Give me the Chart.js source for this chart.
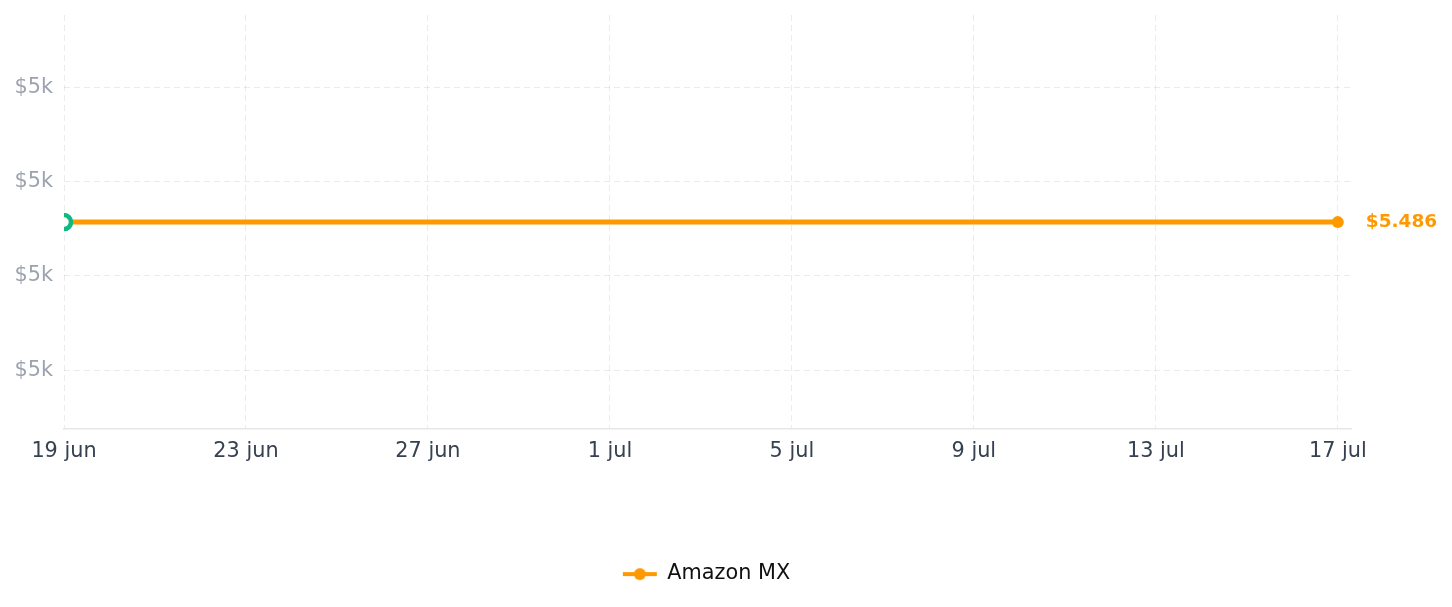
<!DOCTYPE html>
<html>
<head>
<meta charset="utf-8">
<script src="https://cdn.jsdelivr.net/npm/chart.js@4.4.1/dist/chart.umd.min.js"></script>
<style>
  html, body { margin: 0; padding: 0; background: #ffffff; }
  #wrap { width: 1452px; height: 607px; position: relative; }
</style>
</head>
<body>
<div id="wrap"><canvas id="c"></canvas></div>
<script>
// ---- data ----
const seriesName = 'Amazon MX';
const dates = ['2025-06-19', '2025-07-17'];
const prices = [5485.7, 5485.7];
const xTickLabels = ['19 jun', '23 jun', '27 jun', '1 jul', '5 jul', '9 jul', '13 jul', '17 jul'];
const xMaxDays = 28.29;

// ---- styles ----
const ORANGE = '#ff9900';
const GREEN = '#10b981';
const FONT = "'DejaVu Sans', Verdana, sans-serif";
const FS = 20.8;

const t0 = Date.parse(dates[0]);
const points = dates.map((d, i) => ({ x: (Date.parse(d) - t0) / 86400000, y: prices[i] }));
const last = prices.length - 1;

// legend icon: line with a dot
const icon = document.createElement('canvas');
icon.width = 36; icon.height = 14;
(function () {
  const g = icon.getContext('2d');
  g.strokeStyle = ORANGE; g.lineWidth = 4;
  g.beginPath(); g.moveTo(1, 7); g.lineTo(35, 7); g.stroke();
  g.fillStyle = ORANGE;
  g.beginPath(); g.arc(18, 7, 6, 0, Math.PI * 2); g.fill();
})();

const lastLabel = {
  id: 'lastLabel',
  afterDatasetsDraw(chart) {
    const el = chart.getDatasetMeta(0).data[last];
    const ctx = chart.ctx;
    ctx.save();
    ctx.font = "bold 18.5px " + FONT;
    ctx.fillStyle = ORANGE;
    ctx.textAlign = 'left';
    ctx.textBaseline = 'middle';
    ctx.fillText('$' + (prices[last] / 1000).toFixed(3), el.x + 28, el.y);
    ctx.restore();
  }
};

new Chart(document.getElementById('c'), {
  type: 'line',
  data: {
    datasets: [{
      label: seriesName,
      data: points,
      borderColor: ORANGE,
      backgroundColor: ORANGE,
      borderWidth: 5,
      tension: 0,
      clip: { left: 0, top: false, right: false, bottom: false },
      pointStyle: 'circle',
      pointRadius: (c) => c.dataIndex === 0 ? 7 : (c.dataIndex === last ? 6 : 0),
      pointBorderWidth: (c) => c.dataIndex === 0 ? 4.5 : 0,
      pointBorderColor: (c) => c.dataIndex === 0 ? GREEN : ORANGE,
      pointBackgroundColor: (c) => c.dataIndex === 0 ? '#ffffff' : ORANGE
    }]
  },
  plugins: [lastLabel],
  options: {
    responsive: true,
    maintainAspectRatio: false,
    animation: false,
    layout: { padding: { left: 16, right: 55, top: 15, bottom: 12.5 } },
    scales: {
      x: {
        type: 'linear',
        min: 0,
        max: xMaxDays,
        grid: { color: 'rgba(0,0,0,0.08)', drawTicks: false },
        border: { display: true, color: '#e5e7eb', width: 1.5, dash: [6, 4] },
        ticks: {
          stepSize: 4,
          includeBounds: false,
          autoSkip: false,
          maxRotation: 0,
          padding: 10,
          color: '#374151',
          font: { family: FONT, size: FS },
          callback: (v, i) => xTickLabels[i]
        }
      },
      y: {
        min: prices[0] * 0.996,
        max: prices[0] * 1.004,
        afterFit: (s) => { s.width = 48; s.paddingTop = 15; },
        grid: { color: 'rgba(0,0,0,0.08)', drawTicks: false },
        border: { display: false, dash: [6, 4] },
        ticks: {
          stepSize: 10,
          includeBounds: false,
          padding: 11,
          color: '#9ca3af',
          font: { family: FONT, size: FS },
          callback: (v) => '$' + Math.floor(v / 1000) + 'k'
        }
      },
      yRight: {
        position: 'right',
        display: true,
        afterFit: (s) => { s.width = 46; s.paddingTop = 0; },
        grid: { display: false },
        border: { display: false },
        ticks: { display: false }
      }
    },
    plugins: {
      tooltip: { enabled: false },
      legend: {
        position: 'bottom',
        labels: {
          usePointStyle: true,
          pointStyleWidth: 34,
          padding: 89.5,
          color: '#111111',
          font: { family: FONT, size: FS },
          generateLabels: () => [{
            text: seriesName,
            pointStyle: icon,
            fillStyle: ORANGE,
            strokeStyle: ORANGE,
            lineWidth: 0,
            fontColor: '#111111',
            datasetIndex: 0,
            hidden: false
          }]
        }
      }
    }
  }
});
</script>
</body>
</html>
